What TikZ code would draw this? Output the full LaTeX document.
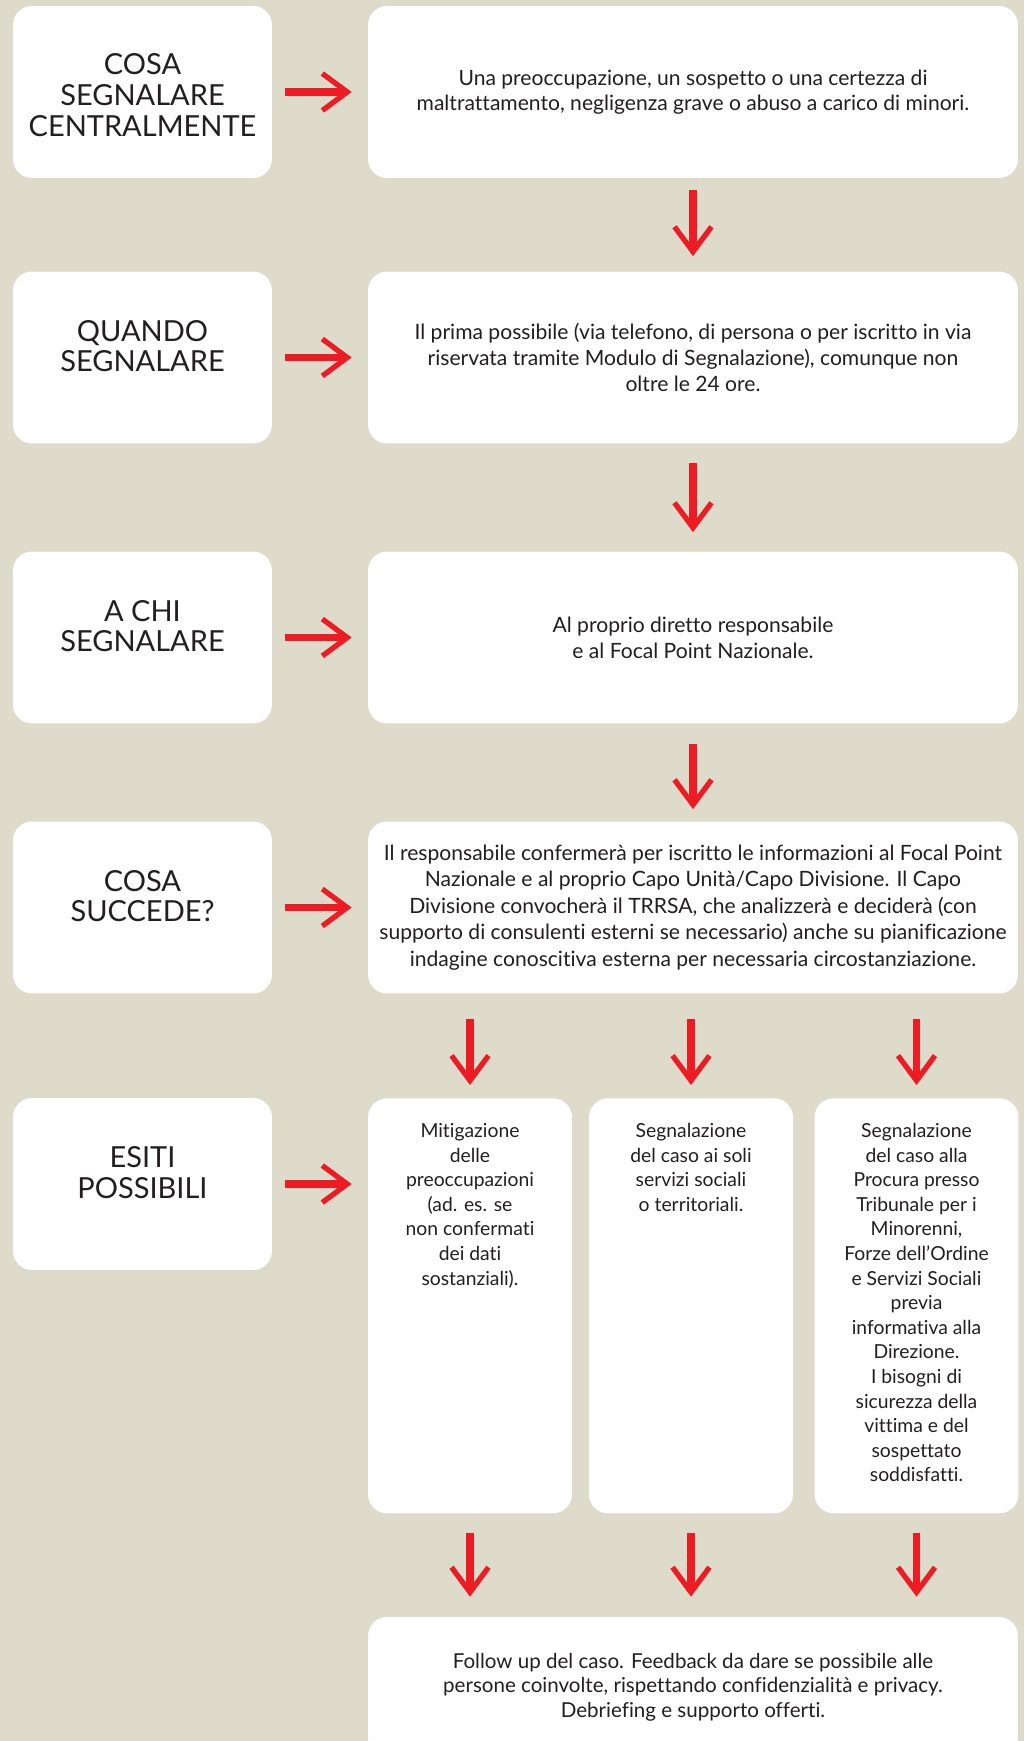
\documentclass[tikz,border=0pt]{standalone}
\usepackage{fontspec}
\setmainfont{Lato}[Ligatures=NoCommon]
\usetikzlibrary{positioning,arrows.meta}
\definecolor{bgbeige}{RGB}{222,219,203}
\definecolor{arrred}{RGB}{237,28,36}
\definecolor{txtgray}{RGB}{35,31,32}
\tikzset{
  whitebox/.style={fill=white,rounded corners=0.38cm,inner sep=0pt,text=txtgray},
  leftbox/.style={whitebox,minimum width=5.18cm,minimum height=3.44cm},
  headtext/.style={inner sep=0pt,align=center,text=txtgray,font=\fontsize{16.5}{17.6}\selectfont},
  rightbox/.style={whitebox,minimum width=13cm,minimum height=3.44cm,align=center,font=\fontsize{12}{14.6}\selectfont},
  colbox/.style={whitebox,minimum width=4.08cm,minimum height=8.3cm,anchor=north},
  coltext/.style={inner sep=0pt,align=center,text=txtgray,font=\fontsize{11}{14}\selectfont},
  redarrow/.style={draw=arrred,line width=4.2pt,-{Straight Barb[length=0.5cm,width=0.74cm,line width=3pt]}}
}
\begin{document}
\begin{tikzpicture}[x=0.02cm,y=-0.02cm]
  \useasboundingbox (0,0) rectangle (1024,1741);
  \fill[bgbeige] (0,0) rectangle (1024,1741);% background
  % left column: questions
  \node[leftbox] (l1) at (142.5,92) {};
  \node[leftbox] (l2) at (142.5,357.5) {};
  \node[leftbox] (l3) at (142.5,637.5) {};
  \node[leftbox] (l4) at (142.5,907.5) {};
  \node[leftbox] (l5) at (142.5,1184) {};
  \node[headtext,below=0.95cm of l1.north] (h1) {COSA\\SEGNALARE\\CENTRALMENTE};
  \node[headtext,below=0.97cm of l2.north] (h2) {QUANDO\\SEGNALARE};
  \node[headtext,below=0.97cm of l3.north] (h3) {A CHI\\SEGNALARE};
  \node[headtext,below=0.97cm of l4.north] (h4) {COSA\\SUCCEDE?};
  \node[headtext,below=0.97cm of l5.north] (h5) {ESITI\\POSSIBILI};
  % right column: answers
  \node[rightbox] (r1) at (693,92) {Una preoccupazione, un sospetto o una certezza di\\
    maltrattamento, negligenza grave o abuso a carico di minori.};
  \node[rightbox] (r2) at (693,357.5) {Il prima possibile (via telefono, di persona o per iscritto in via\\
    riservata tramite Modulo di Segnalazione), comunque non\\oltre le 24 ore.};
  \node[rightbox] (r3) at (693,637.5) {Al proprio diretto responsabile\\e al Focal Point Nazionale.};
  \node[rightbox,font=\fontsize{12}{15}\selectfont] (r4) at (693,907.5) {Il responsabile confermerà per iscritto le informazioni al Focal Point\\
    Nazionale e al proprio Capo Unità/Capo Divisione. Il Capo\\
    Divisione convocherà il TRRSA, che analizzerà e deciderà (con\\
    supporto di consulenti esterni se necessario) anche su pianificazione\\
    indagine conoscitiva esterna per necessaria circostanziazione.};
  % possible outcomes
  \node[colbox] (c1) at (470,1098) {};
  \node[colbox] (c2) at (691,1098) {};
  \node[colbox] (c3) at (916.5,1098) {};
  \node[coltext,below=0.5cm of c1.north] (t1) {Mitigazione\\delle\\preoccupazioni\\(ad. es. se\\non confermati\\dei dati\\sostanziali).};
  \node[coltext,below=0.5cm of c2.north] (t2) {Segnalazione\\del caso ai soli\\servizi sociali\\o territoriali.};
  \node[coltext,below=0.5cm of c3.north] (t3) {Segnalazione\\del caso alla\\Procura presso\\Tribunale per i\\Minorenni,\\
    Forze dell’Ordine\\e Servizi Sociali\\previa\\informativa alla\\Direzione.\\I bisogni di\\sicurezza della\\vittima e del\\sospettato\\soddisfatti.};
  \node[rightbox,minimum height=2.8cm,font=\fontsize{11.7}{14}\selectfont] (fb) at (693,1687) {Follow up del caso. Feedback da dare se possibile alle\\
    persone coinvolte, rispettando confidenzialità e privacy.\\Debriefing e supporto offerti.};
  % arrows
  \foreach \i in {1,...,5}{% question -> answer
    \ifnum\i=5
      \draw[redarrow,shorten <=0.26cm,shorten >=0.32cm] (l5.east) -- (l5.east -| c1.west);
    \else
      \draw[redarrow,shorten <=0.26cm,shorten >=0.32cm] (l\i) -- (r\i);
    \fi}
  \draw[redarrow,shorten <=0.24cm,shorten >=0.3cm] (r1) -- (r2);
  \draw[redarrow,shorten <=0.38cm,shorten >=0.38cm] (r2) -- (r3);
  \draw[redarrow,shorten <=0.4cm,shorten >=0.24cm] (r3) -- (r4);
  \foreach \c in {c1,c2,c3}{%
    \draw[redarrow,shorten <=0.5cm,shorten >=0.26cm] (\c.north |- r4.south) -- (\c.north);
    \draw[redarrow,shorten <=0.38cm,shorten >=0.4cm] (\c.south) -- (\c.south |- fb.north);}
\end{tikzpicture}
\end{document}
